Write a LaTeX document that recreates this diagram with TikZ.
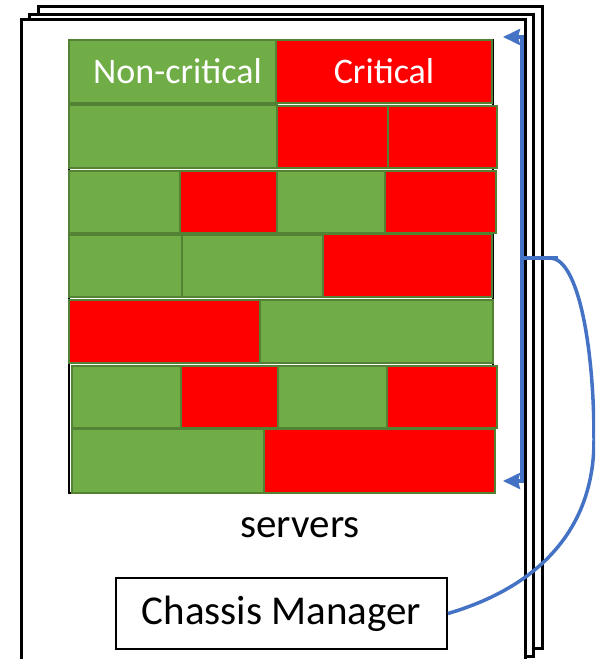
\documentclass[tikz,border=0pt]{standalone}
\usepackage{fontspec}
\setmainfont{Carlito}
\usetikzlibrary{arrows.meta}

\definecolor{okgreen}{HTML}{70AD47}
\definecolor{okedge}{HTML}{548235}
\definecolor{critred}{HTML}{FF0000}
\definecolor{linkblue}{HTML}{4472C4}

\tikzset{
  sheet/.style={draw=black, line width=3pt, fill=white},
  blk/.style={draw=okedge, line width=2.5pt, inner sep=0pt, outer sep=0pt, anchor=north west},
  ncrit/.style={blk, fill=okgreen},
  crit/.style={blk, fill=critred},
  headtxt/.style={text=white, font=\fontsize{36pt}{40pt}\selectfont},
  bigtxt/.style={font=\fontsize{41pt}{46pt}\selectfont},
  mgrbox/.style={draw=black, line width=1.8pt, fill=white, inner sep=0pt,
    minimum width=331pt, minimum height=71pt},
  link/.style={draw=linkblue, line width=3.5pt},
  bracketlink/.style={link, line join=miter,
    {Stealth[length=17pt, width=16pt, inset=2pt]}-{Stealth[length=17pt, width=16pt, inset=2pt]}},
}

% block: name, x1, y1, x2, y2, style, text
\newcommand\srvblk[7]{%
  \node[#6, minimum width={(#4-#2)*1pt}, minimum height={(#5-#3)*1pt}] (#1) at (#2,#3) {#7};}

\begin{document}
\begin{tikzpicture}[x=1pt, y=-1pt]
\useasboundingbox (0,0) rectangle (595,659);
\clip (0,0) rectangle (595,659);

% stacked chassis sheets
\draw[sheet] (38,6) rectangle (542,648);
\draw[sheet] (29,14) rectangle (533,656);
\draw[sheet] (21,19) rectangle (525,668);

% server rack outline
\draw[black, line width=1.2pt] (69,40) rectangle (493,493);

% row 1
\srvblk{a1}{69}{40}{276}{103}{ncrit,headtxt}{\hspace*{10pt}Non-critical}
\srvblk{a2}{276}{40}{492}{103}{crit,headtxt}{Critical}
% row 2
\srvblk{b1}{69}{105}{277}{168}{ncrit}{}
\srvblk{b2}{277}{106}{388}{168}{crit}{}
\srvblk{b3}{388}{106}{497}{168}{crit}{}
% row 3
\srvblk{c1}{69}{171}{180}{233}{ncrit}{}
\srvblk{c2}{180}{171}{277}{233}{crit}{}
\srvblk{c3}{277}{171}{385}{233}{ncrit}{}
\srvblk{c4}{385}{171}{496}{233}{crit}{}
% row 4
\srvblk{d1}{69}{235}{182}{297}{ncrit}{}
\srvblk{d2}{182}{235}{323}{297}{ncrit}{}
\srvblk{d3}{323}{234}{492}{297}{crit}{}
% row 5
\srvblk{e1}{69}{300}{260}{363}{crit}{}
\srvblk{e2}{260}{300}{493}{363}{ncrit}{}
% row 6
\srvblk{f1}{72}{366}{181}{428}{ncrit}{}
\srvblk{f2}{181}{366}{278}{428}{crit}{}
\srvblk{f3}{278}{366}{387}{428}{ncrit}{}
\srvblk{f4}{387}{366}{497}{428}{crit}{}
% row 7
\srvblk{g1}{72}{429}{264}{493}{ncrit}{}
\srvblk{g2}{264}{429}{495}{493}{crit}{}

% labels
\node[bigtxt, anchor=base] (srv) at (300,537) {servers};
\node[mgrbox, bigtxt] (mgr) at (281.5,613.5) {Chassis Manager};

% bracket spanning the servers
\coordinate (topend) at (503,37);
\coordinate (topbend) at (522,37);
\coordinate (botbend) at (522,481);
\coordinate (botend) at (503,481);
\coordinate (hub) at (522,258);
\coordinate (hubend) at (558,258);
\coordinate (curveend) at (550,258);
\coordinate (bulge) at (594,440);

\draw[bracketlink] (topend) -- (topbend) -- (botbend) -- (botend);
\draw[link] (hub) -- (hubend);

% link from the chassis manager to the bracket
\draw[link] (mgr.east) .. controls (538,587) and (594,530) .. (bulge)
  .. controls (594,345) and (578,258) .. (curveend);
\end{tikzpicture}
\end{document}
